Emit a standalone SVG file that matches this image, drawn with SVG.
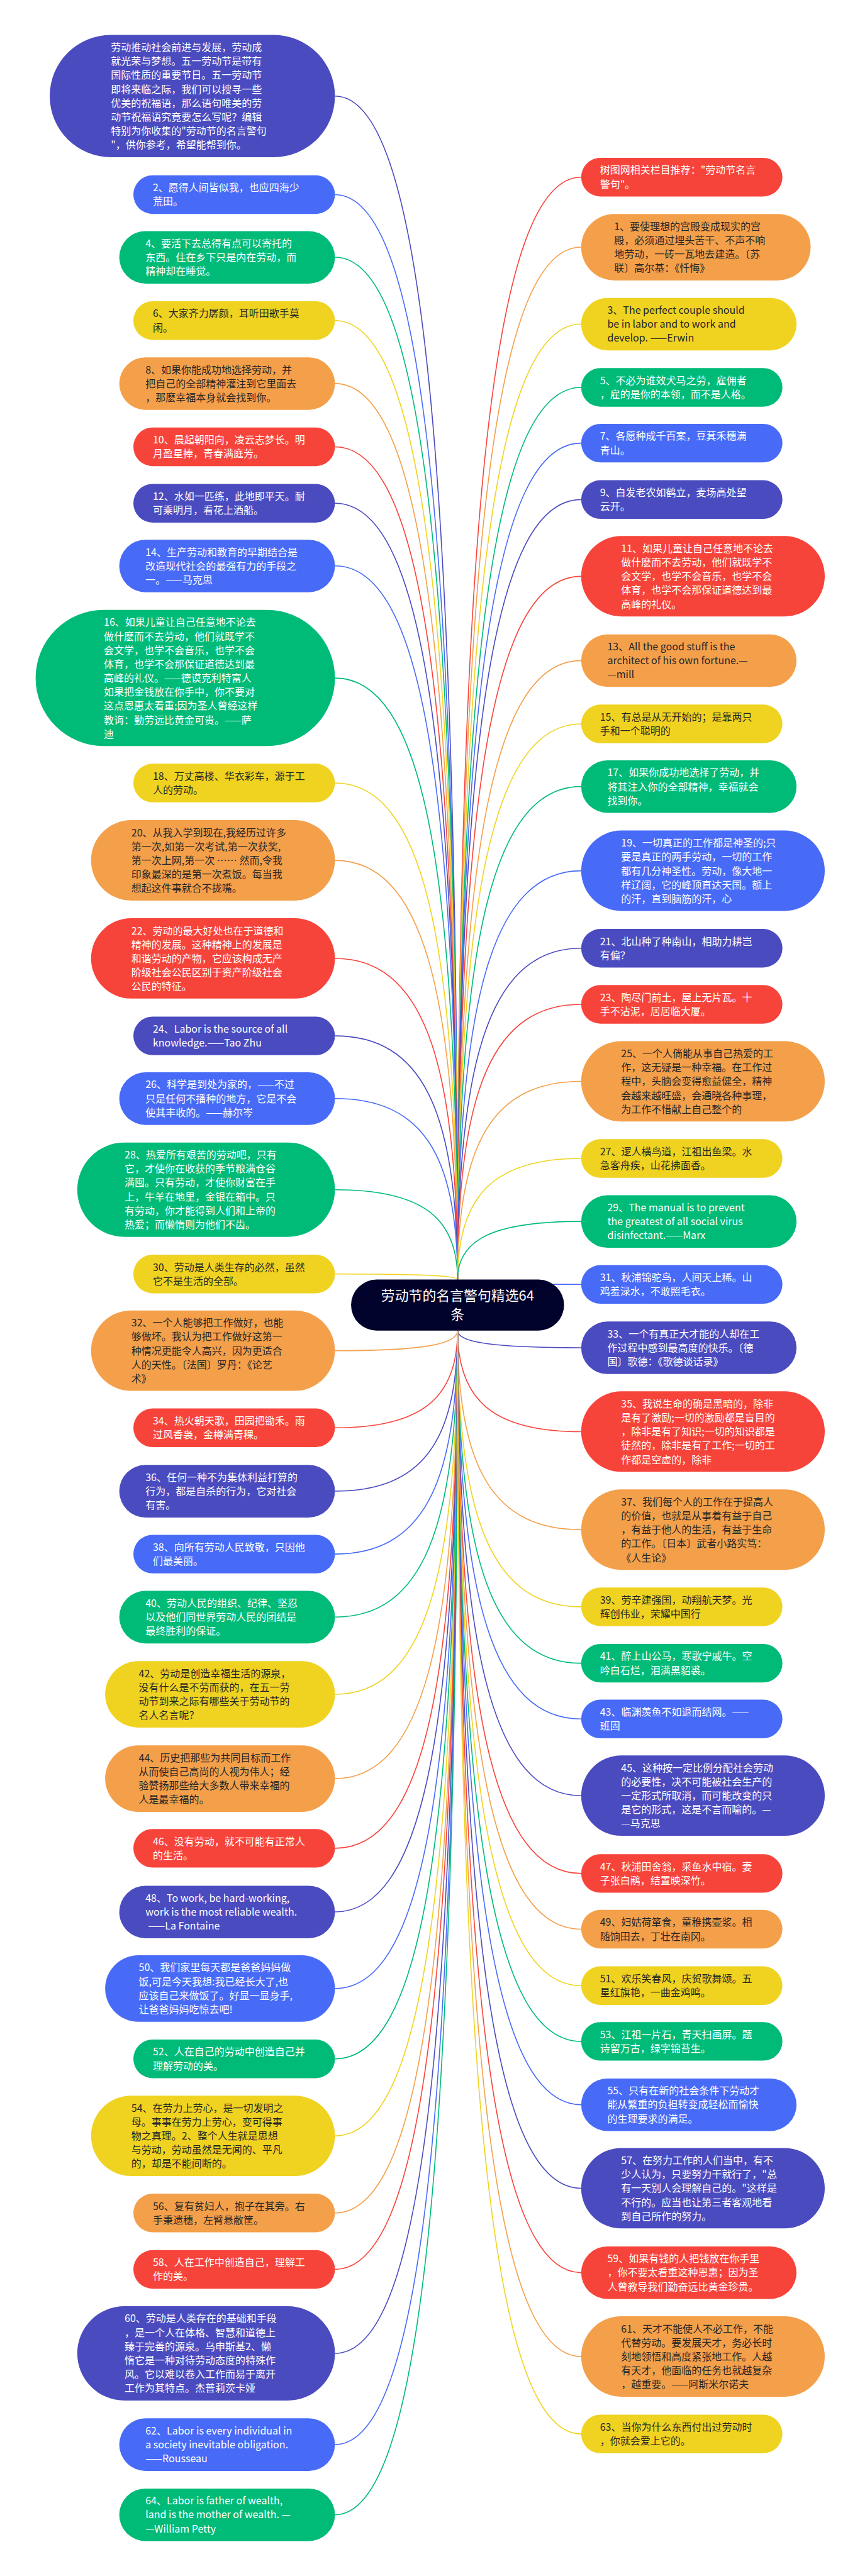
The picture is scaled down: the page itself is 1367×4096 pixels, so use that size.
<svg xmlns="http://www.w3.org/2000/svg" width="1367" height="4096" viewBox="0 0 1367 4096">
<style>
.t{font-family:"Noto Sans CJK SC","Noto Sans",sans-serif;font-size:30px}
.w{fill:#ffffff}.d{fill:#262626}
.fi{fill:#4b4bc0}.fb{fill:#486bf7}.fg{fill:#00bb78}.fy{fill:#f0d321}.fo{fill:#f4a04b}.fr{fill:#f7443b}
.l path{fill:none;stroke-width:3}
.si{stroke:#4b4bc0}.sb{stroke:#486bf7}.sg{stroke:#00bb78}.sy{stroke:#f0d321}.so{stroke:#f4a04b}.sr{stroke:#f7443b}
.ct{font-family:"Noto Sans CJK SC","Noto Sans",sans-serif;font-size:41px;fill:#ffffff;text-anchor:middle}
</style>
<rect width="1367" height="4096" fill="#ffffff"/>
<g transform="scale(0.534)">
<g id="connectors" class="l">
<path class="si" d="M997,286 C1252.5,286 1362,1343.2 1362,3810"/>
<path class="sb" d="M997,579.5 C1252.5,579.5 1362,1548.7 1362,3810"/>
<path class="sg" d="M997,766 C1252.5,766 1362,1679.2 1362,3810"/>
<path class="sy" d="M997,954.5 C1252.5,954.5 1362,1811.2 1362,3810"/>
<path class="so" d="M997,1142 C1252.5,1142 1362,1942.4 1362,3810"/>
<path class="sr" d="M997,1330.5 C1252.5,1330.5 1362,2074.4 1362,3810"/>
<path class="si" d="M997,1498.5 C1252.5,1498.5 1362,2192 1362,3810"/>
<path class="sb" d="M997,1685 C1252.5,1685 1362,2322.5 1362,3810"/>
<path class="sg" d="M997,2019 C1252.5,2019 1362,2556.3 1362,3810"/>
<path class="sy" d="M997,2331.5 C1252.5,2331.5 1362,2775 1362,3810"/>
<path class="so" d="M997,2562 C1252.5,2562 1362,2936.4 1362,3810"/>
<path class="sr" d="M997,2854 C1252.5,2854 1362,3140.8 1362,3810"/>
<path class="si" d="M997,3084.5 C1252.5,3084.5 1362,3302.2 1362,3810"/>
<path class="sb" d="M997,3271 C1252.5,3271 1362,3432.7 1362,3810"/>
<path class="sg" d="M997,3542.5 C1252.5,3542.5 1362,3622.8 1362,3810"/>
<path class="sy" d="M997,3793.5 C1252.5,3793.5 1362,3798.5 1362,3810"/>
<path class="so" d="M997,4022 C1252.5,4022 1362,4004 1362,3962"/>
<path class="sr" d="M997,4251.5 C1252.5,4251.5 1362,4164.7 1362,3962"/>
<path class="si" d="M997,4440 C1252.5,4440 1362,4296.6 1362,3962"/>
<path class="sb" d="M997,4627.5 C1252.5,4627.5 1362,4427.9 1362,3962"/>
<path class="sg" d="M997,4815 C1252.5,4815 1362,4559.1 1362,3962"/>
<path class="sy" d="M997,5045 C1252.5,5045 1362,4720.1 1362,3962"/>
<path class="so" d="M997,5296 C1252.5,5296 1362,4895.8 1362,3962"/>
<path class="sr" d="M997,5503.5 C1252.5,5503.5 1362,5041.1 1362,3962"/>
<path class="si" d="M997,5693 C1252.5,5693 1362,5173.7 1362,3962"/>
<path class="sb" d="M997,5921 C1252.5,5921 1362,5333.3 1362,3962"/>
<path class="sg" d="M997,6130.5 C1252.5,6130.5 1362,5480 1362,3962"/>
<path class="sy" d="M997,6360 C1252.5,6360 1362,5640.6 1362,3962"/>
<path class="so" d="M997,6589.5 C1252.5,6589.5 1362,5801.3 1362,3962"/>
<path class="sr" d="M997,6757.5 C1252.5,6757.5 1362,5918.9 1362,3962"/>
<path class="si" d="M997,7007.5 C1252.5,7007.5 1362,6093.9 1362,3962"/>
<path class="sb" d="M997,7279 C1252.5,7279 1362,6283.9 1362,3962"/>
<path class="sg" d="M997,7488 C1252.5,7488 1362,6430.2 1362,3962"/>
<path class="sr" d="M1730,527.5 C1472.4,527.5 1362,1512.3 1362,3810"/>
<path class="so" d="M1730,736 C1472.4,736 1362,1658.2 1362,3810"/>
<path class="sy" d="M1730,965 C1472.4,965 1362,1818.5 1362,3810"/>
<path class="sg" d="M1730,1153.5 C1472.4,1153.5 1362,1950.5 1362,3810"/>
<path class="sb" d="M1730,1319.5 C1472.4,1319.5 1362,2066.7 1362,3810"/>
<path class="si" d="M1730,1487.5 C1472.4,1487.5 1362,2184.3 1362,3810"/>
<path class="sr" d="M1730,1716 C1472.4,1716 1362,2344.2 1362,3810"/>
<path class="so" d="M1730,1967 C1472.4,1967 1362,2519.9 1362,3810"/>
<path class="sy" d="M1730,2155.5 C1472.4,2155.5 1362,2651.9 1362,3810"/>
<path class="sg" d="M1730,2342 C1472.4,2342 1362,2782.4 1362,3810"/>
<path class="sb" d="M1730,2593 C1472.4,2593 1362,2958.1 1362,3810"/>
<path class="si" d="M1730,2823.5 C1472.4,2823.5 1362,3119.5 1362,3810"/>
<path class="sr" d="M1730,2990.5 C1472.4,2990.5 1362,3236.4 1362,3810"/>
<path class="so" d="M1730,3220 C1472.4,3220 1362,3397 1362,3810"/>
<path class="sy" d="M1730,3449.5 C1472.4,3449.5 1362,3557.7 1362,3810"/>
<path class="sg" d="M1730,3637 C1472.4,3637 1362,3688.9 1362,3810"/>
<path class="sb" d="M1730,3824.5 C1472.4,3824.5 1362,3820.2 1362,3810"/>
<path class="si" d="M1730,4013 C1472.4,4013 1362,3997.7 1362,3962"/>
<path class="sr" d="M1730,4263 C1472.4,4263 1362,4172.7 1362,3962"/>
<path class="so" d="M1730,4555 C1472.4,4555 1362,4377.1 1362,3962"/>
<path class="sy" d="M1730,4784.5 C1472.4,4784.5 1362,4537.8 1362,3962"/>
<path class="sg" d="M1730,4952.5 C1472.4,4952.5 1362,4655.4 1362,3962"/>
<path class="sb" d="M1730,5118.5 C1472.4,5118.5 1362,4771.6 1362,3962"/>
<path class="si" d="M1730,5347 C1472.4,5347 1362,4931.5 1362,3962"/>
<path class="sr" d="M1730,5578.5 C1472.4,5578.5 1362,5093.6 1362,3962"/>
<path class="so" d="M1730,5744.5 C1472.4,5744.5 1362,5209.8 1362,3962"/>
<path class="sy" d="M1730,5912.5 C1472.4,5912.5 1362,5327.4 1362,3962"/>
<path class="sg" d="M1730,6078.5 C1472.4,6078.5 1362,5443.6 1362,3962"/>
<path class="sb" d="M1730,6267 C1472.4,6267 1362,5575.5 1362,3962"/>
<path class="si" d="M1730,6516 C1472.4,6516 1362,5749.8 1362,3962"/>
<path class="sr" d="M1730,6767 C1472.4,6767 1362,5925.5 1362,3962"/>
<path class="so" d="M1730,7017 C1472.4,7017 1362,6100.5 1362,3962"/>
<path class="sy" d="M1730,7247.5 C1472.4,7247.5 1362,6261.9 1362,3962"/>
</g>

<g id="center"><rect x="1045" y="3810" width="634" height="152" rx="76" fill="#01022c"/><text class="ct"><tspan x="1362" y="3872">劳动节的名言警句精选64</tspan><tspan x="1362" y="3928">条</tspan></text></g>

<g id="intro"><rect class="fi" x="148" y="104" width="849" height="364" rx="182"/><text class="t w" x="330" y="151.75"><tspan x="330">劳动推动社会前进与发展，劳动成</tspan><tspan x="330" dy="41.5">就光荣与梦想。五一劳动节是带有</tspan><tspan x="330" dy="41.5">国际性质的重要节日。五一劳动节</tspan><tspan x="330" dy="41.5">即将来临之际，我们可以搜寻一些</tspan><tspan x="330" dy="41.5">优美的祝福语，那么语句唯美的劳</tspan><tspan x="330" dy="41.5">动节祝福语究竟要怎么写呢？编辑</tspan><tspan x="330" dy="41.5">特别为你收集的"劳动节的名言警句</tspan><tspan x="330" dy="41.5">"，供你参考，希望能帮到你。</tspan></text></g>
<g id="n2"><rect class="fb" x="397" y="522" width="600" height="115" rx="57.5"/><text class="t w" x="455" y="569.75"><tspan x="455">2、愿得人间皆似我，也应四海少</tspan><tspan x="455" dy="41.5">荒田。</tspan></text></g>
<g id="n4"><rect class="fg" x="355" y="688" width="642" height="156.5" rx="78.25"/><text class="t w" x="433" y="735.5"><tspan x="433">4、要活下去总得有点可以寄托的</tspan><tspan x="433" dy="41.5">东西。住在乡下只是内在劳动，而</tspan><tspan x="433" dy="41.5">精神却在睡觉。</tspan></text></g>
<g id="n6"><rect class="fy" x="397" y="897" width="600" height="115" rx="57.5"/><text class="t d" x="455" y="944.75"><tspan x="455">6、大家齐力孱颜，耳听田歌手莫</tspan><tspan x="455" dy="41.5">闲。</tspan></text></g>
<g id="n8"><rect class="fo" x="355" y="1064" width="642" height="156.5" rx="78.25"/><text class="t d" x="433" y="1111.5"><tspan x="433">8、如果你能成功地选择劳动，并</tspan><tspan x="433" dy="41.5">把自己的全部精神灌注到它里面去</tspan><tspan x="433" dy="41.5">，那麽幸福本身就会找到你。</tspan></text></g>
<g id="n10"><rect class="fr" x="397" y="1273" width="600" height="115" rx="57.5"/><text class="t w" x="455" y="1320.75"><tspan x="455">10、晨起朝阳向，凌云志梦长。明</tspan><tspan x="455" dy="41.5">月盈星捧，青春满庭芳。</tspan></text></g>
<g id="n12"><rect class="fi" x="397" y="1441" width="600" height="115" rx="57.5"/><text class="t w" x="455" y="1488.75"><tspan x="455">12、水如一匹练，此地即平天。耐</tspan><tspan x="455" dy="41.5">可乘明月，看花上酒船。</tspan></text></g>
<g id="n14"><rect class="fb" x="355" y="1607" width="642" height="156.5" rx="78.25"/><text class="t w" x="433" y="1654.5"><tspan x="433">14、生产劳动和教育的早期结合是</tspan><tspan x="433" dy="41.5">改造现代社会的最强有力的手段之</tspan><tspan x="433" dy="41.5">一。——马克思</tspan></text></g>
<g id="n16"><rect class="fg" x="106" y="1816" width="891" height="405.5" rx="202.75"/><text class="t w" x="309" y="1864"><tspan x="309">16、如果儿童让自己任意地不论去</tspan><tspan x="309" dy="41.5">做什麽而不去劳动，他们就既学不</tspan><tspan x="309" dy="41.5">会文学，也学不会音乐，也学不会</tspan><tspan x="309" dy="41.5">体育，也学不会那保证道德达到最</tspan><tspan x="309" dy="41.5">高峰的礼仪。——德谟克利特富人</tspan><tspan x="309" dy="41.5">如果把金钱放在你手中，你不要对</tspan><tspan x="309" dy="41.5">这点恩惠太看重;因为圣人曾经这样</tspan><tspan x="309" dy="41.5">教诲：勤劳远比黄金可贵。——萨</tspan><tspan x="309" dy="41.5">迪</tspan></text></g>
<g id="n18"><rect class="fy" x="397" y="2274" width="600" height="115" rx="57.5"/><text class="t d" x="455" y="2321.75"><tspan x="455">18、万丈高楼、华衣彩车，源于工</tspan><tspan x="455" dy="41.5">人的劳动。</tspan></text></g>
<g id="n20"><rect class="fo" x="271" y="2442" width="726" height="239.5" rx="119.75"/><text class="t d" x="391" y="2490"><tspan x="391">20、从我入学到现在,我经历过许多</tspan><tspan x="391" dy="41.5">第一次,如第一次考试,第一次获奖,</tspan><tspan x="391" dy="41.5">第一次上网,第一次 …… 然而,令我</tspan><tspan x="391" dy="41.5">印象最深的是第一次煮饭。每当我</tspan><tspan x="391" dy="41.5">想起这件事就合不拢嘴。</tspan></text></g>
<g id="n22"><rect class="fr" x="271" y="2734" width="726" height="239.5" rx="119.75"/><text class="t w" x="391" y="2782"><tspan x="391">22、劳动的最大好处也在于道德和</tspan><tspan x="391" dy="41.5">精神的发展。这种精神上的发展是</tspan><tspan x="391" dy="41.5">和谐劳动的产物，它应该构成无产</tspan><tspan x="391" dy="41.5">阶级社会公民区别于资产阶级社会</tspan><tspan x="391" dy="41.5">公民的特征。</tspan></text></g>
<g id="n24"><rect class="fi" x="397" y="3027" width="600" height="115" rx="57.5"/><text class="t w" x="455" y="3074.75"><tspan x="455">24、Labor is the source of all</tspan><tspan x="455" dy="41.5">knowledge.——Tao Zhu</tspan></text></g>
<g id="n26"><rect class="fb" x="355" y="3193" width="642" height="156.5" rx="78.25"/><text class="t w" x="433" y="3240.5"><tspan x="433">26、科学是到处为家的，——不过</tspan><tspan x="433" dy="41.5">只是任何不播种的地方，它是不会</tspan><tspan x="433" dy="41.5">使其丰收的。——赫尔岑</tspan></text></g>
<g id="n28"><rect class="fg" x="230" y="3402" width="767" height="281" rx="140.5"/><text class="t w" x="371" y="3449.75"><tspan x="371">28、热爱所有艰苦的劳动吧，只有</tspan><tspan x="371" dy="41.5">它，才使你在收获的季节粮满仓谷</tspan><tspan x="371" dy="41.5">满囤。只有劳动，才使你财富在手</tspan><tspan x="371" dy="41.5">上，牛羊在地里，金银在箱中。只</tspan><tspan x="371" dy="41.5">有劳动，你才能得到人们和上帝的</tspan><tspan x="371" dy="41.5">热爱；而懒惰则为他们不齿。</tspan></text></g>
<g id="n30"><rect class="fy" x="397" y="3736" width="600" height="115" rx="57.5"/><text class="t d" x="455" y="3783.75"><tspan x="455">30、劳动是人类生存的必然，虽然</tspan><tspan x="455" dy="41.5">它不是生活的全部。</tspan></text></g>
<g id="n32"><rect class="fo" x="271" y="3902" width="726" height="239.5" rx="119.75"/><text class="t d" x="391" y="3950"><tspan x="391">32、一个人能够把工作做好，也能</tspan><tspan x="391" dy="41.5">够做坏。我认为把工作做好这第一</tspan><tspan x="391" dy="41.5">种情况更能令人高兴，因为更适合</tspan><tspan x="391" dy="41.5">人的天性。〔法国〕罗丹：《论艺</tspan><tspan x="391" dy="41.5">术》</tspan></text></g>
<g id="n34"><rect class="fr" x="397" y="4194" width="600" height="115" rx="57.5"/><text class="t w" x="455" y="4241.75"><tspan x="455">34、热火朝天歌，田园把锄禾。雨</tspan><tspan x="455" dy="41.5">过风香袅，金樽满青稞。</tspan></text></g>
<g id="n36"><rect class="fi" x="355" y="4362" width="642" height="156.5" rx="78.25"/><text class="t w" x="433" y="4409.5"><tspan x="433">36、任何一种不为集体利益打算的</tspan><tspan x="433" dy="41.5">行为，都是自杀的行为，它对社会</tspan><tspan x="433" dy="41.5">有害。</tspan></text></g>
<g id="n38"><rect class="fb" x="397" y="4570" width="600" height="115" rx="57.5"/><text class="t w" x="455" y="4617.75"><tspan x="455">38、向所有劳动人民致敬，只因他</tspan><tspan x="455" dy="41.5">们最美丽。</tspan></text></g>
<g id="n40"><rect class="fg" x="355" y="4737" width="642" height="156.5" rx="78.25"/><text class="t w" x="433" y="4784.5"><tspan x="433">40、劳动人民的组织、纪律、坚忍</tspan><tspan x="433" dy="41.5">以及他们同世界劳动人民的团结是</tspan><tspan x="433" dy="41.5">最终胜利的保证。</tspan></text></g>
<g id="n42"><rect class="fy" x="313" y="4946" width="684" height="198" rx="99"/><text class="t d" x="413" y="4993.75"><tspan x="413">42、劳动是创造幸福生活的源泉，</tspan><tspan x="413" dy="41.5">没有什么是不劳而获的，在五一劳</tspan><tspan x="413" dy="41.5">动节到来之际有哪些关于劳动节的</tspan><tspan x="413" dy="41.5">名人名言呢？</tspan></text></g>
<g id="n44"><rect class="fo" x="313" y="5197" width="684" height="198" rx="99"/><text class="t d" x="413" y="5244.75"><tspan x="413">44、历史把那些为共同目标而工作</tspan><tspan x="413" dy="41.5">从而使自己高尚的人视为伟人；经</tspan><tspan x="413" dy="41.5">验赞扬那些给大多数人带来幸福的</tspan><tspan x="413" dy="41.5">人是最幸福的。</tspan></text></g>
<g id="n46"><rect class="fr" x="397" y="5446" width="600" height="115" rx="57.5"/><text class="t w" x="455" y="5493.75"><tspan x="455">46、没有劳动，就不可能有正常人</tspan><tspan x="455" dy="41.5">的生活。</tspan></text></g>
<g id="n48"><rect class="fi" x="355" y="5615" width="642" height="156.5" rx="78.25"/><text class="t w" x="433" y="5662.5"><tspan x="433">48、To work, be hard-working,</tspan><tspan x="433" dy="41.5">work is the most reliable wealth.</tspan><tspan x="441" dy="41.5">——La Fontaine</tspan></text></g>
<g id="n50"><rect class="fb" x="313" y="5822" width="684" height="198" rx="99"/><text class="t w" x="413" y="5869.75"><tspan x="413">50、我们家里每天都是爸爸妈妈做</tspan><tspan x="413" dy="41.5">饭,可是今天我想:我已经长大了,也</tspan><tspan x="413" dy="41.5">应该自己来做饭了。好显一显身手,</tspan><tspan x="413" dy="41.5">让爸爸妈妈吃惊去吧!</tspan></text></g>
<g id="n52"><rect class="fg" x="397" y="6073" width="600" height="115" rx="57.5"/><text class="t w" x="455" y="6120.75"><tspan x="455">52、人在自己的劳动中创造自己并</tspan><tspan x="455" dy="41.5">理解劳动的美。</tspan></text></g>
<g id="n54"><rect class="fy" x="271" y="6240" width="726" height="239.5" rx="119.75"/><text class="t d" x="391" y="6288"><tspan x="391">54、在劳力上劳心，是一切发明之</tspan><tspan x="391" dy="41.5">母。事事在劳力上劳心，变可得事</tspan><tspan x="391" dy="41.5">物之真理。2、整个人生就是思想</tspan><tspan x="391" dy="41.5">与劳动，劳动虽然是无闻的、平凡</tspan><tspan x="391" dy="41.5">的，却是不能间断的。</tspan></text></g>
<g id="n56"><rect class="fo" x="397" y="6532" width="600" height="115" rx="57.5"/><text class="t d" x="455" y="6579.75"><tspan x="455">56、复有贫妇人，抱子在其旁。右</tspan><tspan x="455" dy="41.5">手秉遗穗，左臂悬敝筐。</tspan></text></g>
<g id="n58"><rect class="fr" x="397" y="6700" width="600" height="115" rx="57.5"/><text class="t w" x="455" y="6747.75"><tspan x="455">58、人在工作中创造自己，理解工</tspan><tspan x="455" dy="41.5">作的美。</tspan></text></g>
<g id="n60"><rect class="fi" x="230" y="6867" width="767" height="281" rx="140.5"/><text class="t w" x="371" y="6914.75"><tspan x="371">60、劳动是人类存在的基础和手段</tspan><tspan x="371" dy="41.5">，是一个人在体格、智慧和道德上</tspan><tspan x="371" dy="41.5">臻于完善的源泉。乌申斯基2、懒</tspan><tspan x="371" dy="41.5">惰它是一种对待劳动态度的特殊作</tspan><tspan x="371" dy="41.5">风。它以难以卷入工作而易于离开</tspan><tspan x="371" dy="41.5">工作为其特点。杰普莉茨卡娅</tspan></text></g>
<g id="n62"><rect class="fb" x="355" y="7201" width="642" height="156.5" rx="78.25"/><text class="t w" x="433" y="7248.5"><tspan x="433">62、Labor is every individual in</tspan><tspan x="433" dy="41.5">a society inevitable obligation.</tspan><tspan x="433" dy="41.5">——Rousseau</tspan></text></g>
<g id="n64"><rect class="fg" x="355" y="7410" width="642" height="156.5" rx="78.25"/><text class="t w" x="433" y="7457.5"><tspan x="433">64、Labor is father of wealth,</tspan><tspan x="433" dy="41.5">land is the mother of wealth. —</tspan><tspan x="433" dy="41.5">—William Petty</tspan></text></g>

<g id="r0"><rect class="fr" x="1730" y="470" width="599" height="115" rx="57.5"/><text class="t w" x="1786" y="517.75"><tspan x="1786">树图网相关栏目推荐："劳动节名言</tspan><tspan x="1786" dy="41.5">警句"。</tspan></text></g>
<g id="r1"><rect class="fo" x="1730" y="637" width="683" height="198" rx="99"/><text class="t d" x="1828" y="684.75"><tspan x="1828">1、要使理想的宫殿变成现实的宫</tspan><tspan x="1828" dy="41.5">殿，必须通过埋头苦干、不声不响</tspan><tspan x="1828" dy="41.5">地劳动，一砖一瓦地去建造。〔苏</tspan><tspan x="1828" dy="41.5">联〕高尔基：《忏悔》</tspan></text></g>
<g id="r3"><rect class="fy" x="1730" y="887" width="641" height="156.5" rx="78.25"/><text class="t d" x="1808" y="934.5"><tspan x="1808">3、The perfect couple should</tspan><tspan x="1808" dy="41.5">be in labor and to work and</tspan><tspan x="1808" dy="41.5">develop. ——Erwin</tspan></text></g>
<g id="r5"><rect class="fg" x="1730" y="1096" width="599" height="115" rx="57.5"/><text class="t w" x="1786" y="1143.75"><tspan x="1786">5、不必为谁效犬马之劳，雇佣者</tspan><tspan x="1786" dy="41.5">，雇的是你的本领，而不是人格。</tspan></text></g>
<g id="r7"><rect class="fb" x="1730" y="1262" width="599" height="115" rx="57.5"/><text class="t w" x="1786" y="1309.75"><tspan x="1786">7、各愿种成千百案，豆萁禾穗满</tspan><tspan x="1786" dy="41.5">青山。</tspan></text></g>
<g id="r9"><rect class="fi" x="1730" y="1430" width="599" height="115" rx="57.5"/><text class="t w" x="1786" y="1477.75"><tspan x="1786">9、白发老农如鹤立，麦场高处望</tspan><tspan x="1786" dy="41.5">云开。</tspan></text></g>
<g id="r11"><rect class="fr" x="1730" y="1596" width="725" height="239.5" rx="119.75"/><text class="t w" x="1849" y="1644"><tspan x="1849">11、如果儿童让自己任意地不论去</tspan><tspan x="1849" dy="41.5">做什麽而不去劳动，他们就既学不</tspan><tspan x="1849" dy="41.5">会文学，也学不会音乐，也学不会</tspan><tspan x="1849" dy="41.5">体育，也学不会那保证道德达到最</tspan><tspan x="1849" dy="41.5">高峰的礼仪。</tspan></text></g>
<g id="r13"><rect class="fo" x="1730" y="1889" width="641" height="156.5" rx="78.25"/><text class="t d" x="1808" y="1936.5"><tspan x="1808">13、All the good stuff is the</tspan><tspan x="1808" dy="41.5">architect of his own fortune.—</tspan><tspan x="1808" dy="41.5">—mill</tspan></text></g>
<g id="r15"><rect class="fy" x="1730" y="2098" width="599" height="115" rx="57.5"/><text class="t d" x="1786" y="2145.75"><tspan x="1786">15、有总是从无开始的；是靠两只</tspan><tspan x="1786" dy="41.5">手和一个聪明的</tspan></text></g>
<g id="r17"><rect class="fg" x="1730" y="2264" width="641" height="156.5" rx="78.25"/><text class="t w" x="1808" y="2311.5"><tspan x="1808">17、如果你成功地选择了劳动，并</tspan><tspan x="1808" dy="41.5">将其注入你的全部精神，幸福就会</tspan><tspan x="1808" dy="41.5">找到你。</tspan></text></g>
<g id="r19"><rect class="fb" x="1730" y="2473" width="725" height="239.5" rx="119.75"/><text class="t w" x="1849" y="2521"><tspan x="1849">19、一切真正的工作都是神圣的;只</tspan><tspan x="1849" dy="41.5">要是真正的两手劳动，一切的工作</tspan><tspan x="1849" dy="41.5">都有几分神圣性。劳动，像大地一</tspan><tspan x="1849" dy="41.5">样辽阔，它的峰顶直达天国。额上</tspan><tspan x="1849" dy="41.5">的汗，直到脑筋的汗，心</tspan></text></g>
<g id="r21"><rect class="fi" x="1730" y="2766" width="599" height="115" rx="57.5"/><text class="t w" x="1786" y="2813.75"><tspan x="1786">21、北山种了种南山，相助力耕岂</tspan><tspan x="1786" dy="41.5">有偏？</tspan></text></g>
<g id="r23"><rect class="fr" x="1730" y="2933" width="599" height="115" rx="57.5"/><text class="t w" x="1786" y="2980.75"><tspan x="1786">23、陶尽门前土，屋上无片瓦。十</tspan><tspan x="1786" dy="41.5">手不沾泥，居居临大厦。</tspan></text></g>
<g id="r25"><rect class="fo" x="1730" y="3100" width="725" height="239.5" rx="119.75"/><text class="t d" x="1849" y="3148"><tspan x="1849">25、一个人倘能从事自己热爱的工</tspan><tspan x="1849" dy="41.5">作，这无疑是一种幸福。在工作过</tspan><tspan x="1849" dy="41.5">程中，头脑会变得愈益健全，精神</tspan><tspan x="1849" dy="41.5">会越来越旺盛，会通晓各种事理，</tspan><tspan x="1849" dy="41.5">为工作不惜献上自己整个的</tspan></text></g>
<g id="r27"><rect class="fy" x="1730" y="3392" width="599" height="115" rx="57.5"/><text class="t d" x="1786" y="3439.75"><tspan x="1786">27、逻人横鸟道，江祖出鱼梁。水</tspan><tspan x="1786" dy="41.5">急客舟疾，山花拂面香。</tspan></text></g>
<g id="r29"><rect class="fg" x="1730" y="3559" width="641" height="156.5" rx="78.25"/><text class="t w" x="1808" y="3606.5"><tspan x="1808">29、The manual is to prevent</tspan><tspan x="1808" dy="41.5">the greatest of all social virus</tspan><tspan x="1808" dy="41.5">disinfectant.——Marx</tspan></text></g>
<g id="r31"><rect class="fb" x="1730" y="3767" width="599" height="115" rx="57.5"/><text class="t w" x="1786" y="3814.75"><tspan x="1786">31、秋浦锦驼鸟，人间天上稀。山</tspan><tspan x="1786" dy="41.5">鸡羞渌水，不敢照毛衣。</tspan></text></g>
<g id="r33"><rect class="fi" x="1730" y="3935" width="641" height="156.5" rx="78.25"/><text class="t w" x="1808" y="3982.5"><tspan x="1808">33、一个有真正大才能的人却在工</tspan><tspan x="1808" dy="41.5">作过程中感到最高度的快乐。〔德</tspan><tspan x="1808" dy="41.5">国〕歌德：《歌德谈话录》</tspan></text></g>
<g id="r35"><rect class="fr" x="1730" y="4143" width="725" height="239.5" rx="119.75"/><text class="t w" x="1849" y="4191"><tspan x="1849">35、我说生命的确是黑暗的，除非</tspan><tspan x="1849" dy="41.5">是有了激励;一切的激励都是盲目的</tspan><tspan x="1849" dy="41.5">，除非是有了知识;一切的知识都是</tspan><tspan x="1849" dy="41.5">徒然的，除非是有了工作;一切的工</tspan><tspan x="1849" dy="41.5">作都是空虚的，除非</tspan></text></g>
<g id="r37"><rect class="fo" x="1730" y="4435" width="725" height="239.5" rx="119.75"/><text class="t d" x="1849" y="4483"><tspan x="1849">37、我们每个人的工作在于提高人</tspan><tspan x="1849" dy="41.5">的价值，也就是从事着有益于自己</tspan><tspan x="1849" dy="41.5">，有益于他人的生活，有益于生命</tspan><tspan x="1849" dy="41.5">的工作。〔日本〕武者小路实笃：</tspan><tspan x="1849" dy="41.5">《人生论》</tspan></text></g>
<g id="r39"><rect class="fy" x="1730" y="4727" width="599" height="115" rx="57.5"/><text class="t d" x="1786" y="4774.75"><tspan x="1786">39、劳辛建强国，动翔航天梦。光</tspan><tspan x="1786" dy="41.5">辉创伟业，荣耀中国行</tspan></text></g>
<g id="r41"><rect class="fg" x="1730" y="4895" width="599" height="115" rx="57.5"/><text class="t w" x="1786" y="4942.75"><tspan x="1786">41、醉上山公马，寒歌宁戚牛。空</tspan><tspan x="1786" dy="41.5">吟白石烂，泪满黑貂裘。</tspan></text></g>
<g id="r43"><rect class="fb" x="1730" y="5061" width="599" height="115" rx="57.5"/><text class="t w" x="1786" y="5108.75"><tspan x="1786">43、临渊羡鱼不如退而结网。——</tspan><tspan x="1786" dy="41.5">班固</tspan></text></g>
<g id="r45"><rect class="fi" x="1730" y="5227" width="725" height="239.5" rx="119.75"/><text class="t w" x="1849" y="5275"><tspan x="1849">45、这种按一定比例分配社会劳动</tspan><tspan x="1849" dy="41.5">的必要性，决不可能被社会生产的</tspan><tspan x="1849" dy="41.5">一定形式所取消，而可能改变的只</tspan><tspan x="1849" dy="41.5">是它的形式，这是不言而喻的。—</tspan><tspan x="1849" dy="41.5">—马克思</tspan></text></g>
<g id="r47"><rect class="fr" x="1730" y="5521" width="599" height="115" rx="57.5"/><text class="t w" x="1786" y="5568.75"><tspan x="1786">47、秋浦田舍翁，采鱼水中宿。妻</tspan><tspan x="1786" dy="41.5">子张白鹇，结置映深竹。</tspan></text></g>
<g id="r49"><rect class="fo" x="1730" y="5687" width="599" height="115" rx="57.5"/><text class="t d" x="1786" y="5734.75"><tspan x="1786">49、妇姑荷箪食，童稚携壶浆。相</tspan><tspan x="1786" dy="41.5">随饷田去，丁壮在南冈。</tspan></text></g>
<g id="r51"><rect class="fy" x="1730" y="5855" width="599" height="115" rx="57.5"/><text class="t d" x="1786" y="5902.75"><tspan x="1786">51、欢乐笑春风，庆贺歌舞颂。五</tspan><tspan x="1786" dy="41.5">星红旗艳，一曲金鸡鸣。</tspan></text></g>
<g id="r53"><rect class="fg" x="1730" y="6021" width="599" height="115" rx="57.5"/><text class="t w" x="1786" y="6068.75"><tspan x="1786">53、江祖一片石，青天扫画屏。题</tspan><tspan x="1786" dy="41.5">诗留万古，绿字锦苔生。</tspan></text></g>
<g id="r55"><rect class="fb" x="1730" y="6189" width="641" height="156.5" rx="78.25"/><text class="t w" x="1808" y="6236.5"><tspan x="1808">55、只有在新的社会条件下劳动才</tspan><tspan x="1808" dy="41.5">能从繁重的负担转变成轻松而愉快</tspan><tspan x="1808" dy="41.5">的生理要求的满足。</tspan></text></g>
<g id="r57"><rect class="fi" x="1730" y="6396" width="725" height="239.5" rx="119.75"/><text class="t w" x="1849" y="6444"><tspan x="1849">57、在努力工作的人们当中，有不</tspan><tspan x="1849" dy="41.5">少人认为，只要努力干就行了，"总</tspan><tspan x="1849" dy="41.5">有一天别人会理解自己的。"这样是</tspan><tspan x="1849" dy="41.5">不行的。应当也让第三者客观地看</tspan><tspan x="1849" dy="41.5">到自己所作的努力。</tspan></text></g>
<g id="r59"><rect class="fr" x="1730" y="6689" width="641" height="156.5" rx="78.25"/><text class="t w" x="1808" y="6736.5"><tspan x="1808">59、如果有钱的人把钱放在你手里</tspan><tspan x="1808" dy="41.5">，你不要太看重这种恩惠；因为圣</tspan><tspan x="1808" dy="41.5">人曾教导我们勤奋远比黄金珍贵。</tspan></text></g>
<g id="r61"><rect class="fo" x="1730" y="6897" width="725" height="239.5" rx="119.75"/><text class="t d" x="1849" y="6945"><tspan x="1849">61、天才不能使人不必工作，不能</tspan><tspan x="1849" dy="41.5">代替劳动。要发展天才，务必长时</tspan><tspan x="1849" dy="41.5">刻地领悟和高度紧张地工作。人越</tspan><tspan x="1849" dy="41.5">有天才，他面临的任务也就越复杂</tspan><tspan x="1849" dy="41.5">，越重要。——阿斯米尔诺夫</tspan></text></g>
<g id="r63"><rect class="fy" x="1730" y="7190" width="599" height="115" rx="57.5"/><text class="t d" x="1786" y="7237.75"><tspan x="1786">63、当你为什么东西付出过劳动时</tspan><tspan x="1786" dy="41.5">，你就会爱上它的。</tspan></text></g>
</g>
</svg>
